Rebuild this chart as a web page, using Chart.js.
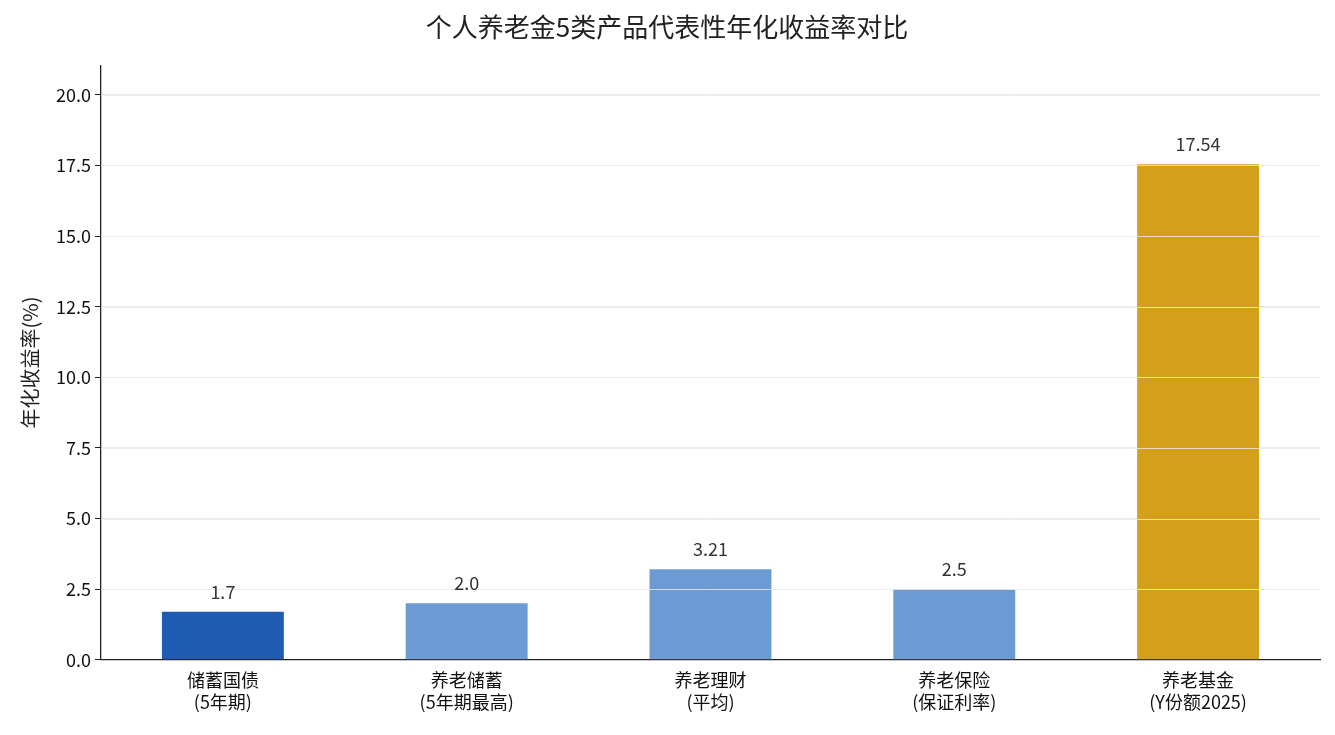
<!DOCTYPE html>
<html>
<head>
<meta charset="utf-8">
<script src="https://cdn.jsdelivr.net/npm/chart.js@4"></script>
<style>
  html, body { margin: 0; padding: 0; background: #fff; }
  #wrap { width: 1335px; height: 735px; }
</style>
</head>
<body>
<div id="wrap"><canvas id="c"></canvas></div>
<script>
const categories = [['储蓄国债', '(5年期)'], ['养老储蓄', '(5年期最高)'], ['养老理财', '(平均)'], ['养老保险', '(保证利率)'], ['养老基金', '(Y份额2025)']];
const returns = [1.7, 2.0, 3.21, 2.5, 17.54];
const valueLabels = ['1.7', '2.0', '3.21', '2.5', '17.54'];
const barColors = ['#1f5bb0', '#6b9bd2', '#6b9bd2', '#6b9bd2', '#d4a01c'];
const yTicks = [0, 2.5, 5, 7.5, 10, 12.5, 15, 17.5, 20];

const font = "'Noto Sans CJK SC', 'Noto Sans', sans-serif";

// grid lines on top of the bars, then the value above each bar
const overlayPlugin = {
    id: 'overlay',
    afterDatasetsDraw(chart) {
        const ctx = chart.ctx;
        const area = chart.chartArea;
        const y = chart.scales.y;
        ctx.save();
        ctx.strokeStyle = 'rgba(235,235,235,0.8)';
        ctx.lineWidth = 1;
        yTicks.slice(1).forEach(v => {
            const py = Math.round(y.getPixelForValue(v)) + 0.5;
            ctx.beginPath();
            ctx.moveTo(area.left, py);
            ctx.lineTo(area.right, py);
            ctx.stroke();
        });
        const meta = chart.getDatasetMeta(0);
        ctx.font = '18px ' + font;
        ctx.fillStyle = '#333';
        ctx.textAlign = 'center';
        ctx.textBaseline = 'bottom';
        meta.data.forEach((bar, i) => {
            ctx.fillText(valueLabels[i], bar.x, bar.y - 11);
        });
        ctx.restore();
    }
};

new Chart(document.getElementById('c'), {
    type: 'bar',
    data: {
        labels: categories,
        datasets: [{
            data: returns,
            backgroundColor: barColors,
            barPercentage: 0.5,
            categoryPercentage: 1.0
        }]
    },
    options: {
        responsive: true,
        maintainAspectRatio: false,
        animation: false,
        layout: { padding: { left: 14, right: 15, top: 6, bottom: 18 } },
        plugins: {
            legend: { display: false },
            tooltip: { enabled: false },
            title: {
                display: true,
                text: '个人养老金5类产品代表性年化收益率对比',
                color: '#222',
                font: { family: font, size: 26, weight: 'normal' },
                padding: { top: 6, bottom: 22 }
            }
        },
        scales: {
            x: {
                grid: { display: false, drawTicks: true, tickLength: 6 },
                border: { color: '#222', width: 1.3 },
                ticks: { color: '#111', font: { family: font, size: 18 }, padding: 4, maxRotation: 0 }
            },
            y: {
                min: 0,
                max: 21.05,
                afterBuildTicks(axis) {
                    axis.ticks = yTicks.map(v => ({ value: v }));
                },
                grid: { color: '#ebebeb', drawTicks: true, tickLength: 6, tickColor: '#222' },
                border: { color: '#222', width: 1.3 },
                ticks: {
                    color: '#111',
                    font: { family: font, size: 18 },
                    padding: 4,
                    callback: v => v.toFixed(1)
                },
                title: {
                    display: true,
                    text: '年化收益率(%)',
                    color: '#222',
                    font: { family: font, size: 20 },
                    padding: { bottom: 10 }
                }
            }
        }
    },
    plugins: [overlayPlugin]
});
</script>
</body>
</html>
